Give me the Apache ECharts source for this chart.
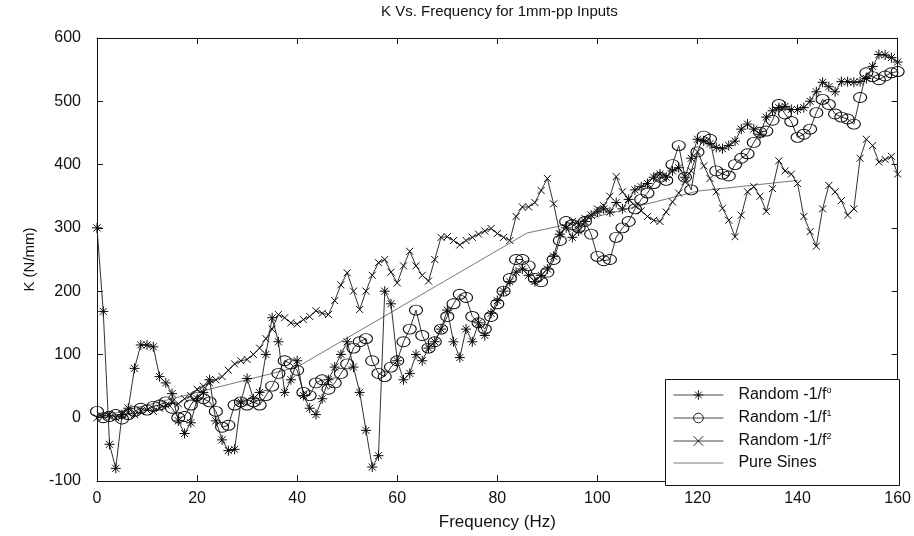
<!DOCTYPE html>
<html>
<head>
<meta charset="utf-8">
<script src="https://cdn.jsdelivr.net/npm/echarts@6/dist/echarts.min.js"></script>
<style>
  html, body { margin: 0; padding: 0; background: #fff; }
  #chart { width: 914px; height: 536px; }
</style>
</head>
<body>
<div id="chart"></div>
<script>
// frequency grid shared by the three random-input runs (Hz)
const freq = Array.from({ length: 129 }, (_, i) => i * 1.25)

// Random -1/f^0 (asterisks)
const kF0 = [
  300, 168, -42, -80, 5, 15, 78, 115, 115, 112,
  65, 55, 38, -5, -25, -8, 30, 40, 60, -5,
  -35, -52, -50, 25, 62, 30, 40, 100, 158, 120,
  40, 60, 90, 35, 15, 5, 30, 60, 80, 100,
  120, 80, 40, -20, -78, -60, 200, 180, 90, 60,
  70, 100, 90, 110, 120, 140, 170, 120, 95, 140,
  120, 150, 130, 165, 185, 200, 215, 230, 235, 225,
  215, 225, 235, 255, 290, 300, 285, 295, 310, 320,
  325, 330, 325, 340, 330, 345, 360, 365, 370, 380,
  385, 380, 390, 395, 380, 410, 440, 437, 433, 427,
  425, 430, 437, 456, 464, 456, 448, 475, 485, 490,
  492, 487, 487, 490, 500, 515, 530, 523, 515, 531,
  531, 530, 531, 536, 555, 574, 573, 569, 562
]

// Random -1/f^1 (circles)
const kF1 = [
  10, 0, 2, 5, -2, 5, 10, 15, 12, 18,
  20, 25, 15, 0, 2, 20, 35, 30, 25, 10,
  -15, -12, 20, 25, 20, 25, 20, 35, 50, 70,
  90, 85, 75, 40, 35, 55, 60, 45, 55, 70,
  85, 110, 120, 125, 90, 70, 65, 80, 90, 120,
  140, 170, 130, 110, 120, 140, 160, 180, 195, 190,
  160, 150, 140, 160, 180, 200, 220, 250, 250, 240,
  220, 215, 230, 250, 280, 310, 305, 300, 310, 290,
  255, 248, 250, 285, 300, 310, 330, 345, 355, 370,
  380, 375, 400, 430, 380, 360, 420, 445, 440, 390,
  385, 382, 400, 410, 417, 435, 451, 453, 470, 495,
  480, 468, 443, 448, 456, 482, 503, 495, 480, 475,
  472, 464, 506, 545, 539, 534, 540, 545, 547
]

// Random -1/f^2 (crosses)
const kF2 = [
  0, 2, 5, 0, 5, 8, 5, 10, 12, 10,
  15, 20, 25, 22, 30, 35, 45, 50, 55, 60,
  65, 75, 85, 90, 92, 100, 110, 125, 140, 163,
  158, 150, 148, 155, 160, 169, 165, 163, 185, 210,
  229, 200, 171, 200, 225, 245, 250, 230, 213, 240,
  263, 240, 225, 216, 250, 285, 286, 280, 273, 280,
  285, 290, 295, 299, 291, 285, 280, 318, 333, 333,
  340, 359, 378, 338, 291, 300, 310, 305, 315, 320,
  330, 335, 350, 381, 357, 345, 335, 327, 318, 312,
  310, 325, 341, 355, 373, 390, 420, 398, 378, 357,
  331, 312, 286, 320, 357, 365, 350, 326, 362, 406,
  390, 385, 370, 318, 294, 271, 330, 367, 357, 343,
  320, 330, 410, 440, 430, 404, 408, 413, 385
]

// Pure Sines
const freqSines = [0, 20, 40, 86, 92, 120, 140]
const kSines = [0, 40, 80, 292, 302, 358, 375]

const xTicks = { min: 0, max: 160, interval: 20 }
const yTicks = { min: -100, max: 600, interval: 100 }

const pairs = (xs, ys) => xs.map((x, i) => [x, ys[i]])

const ASTERISK = 'path://M5,0L5,10M0,5L10,5M1.5,1.5L8.5,8.5M1.5,8.5L8.5,1.5'
const ELLIPSE = 'path://M0,5A6,5,0,1,1,12,5A6,5,0,1,1,0,5Z'
const CROSS = 'path://M0,0L8,8M0,8L8,0'

const FONT = 'Liberation Sans, Arial, Helvetica, sans-serif'
const ink = '#111'

const supMap = {
  'Random -1/f0': '{a|Random -1/f}{s|o}',
  'Random -1/f1': '{a|Random -1/f}{s|1}',
  'Random -1/f2': '{a|Random -1/f}{s|2}',
  'Pure Sines': '{a|Pure Sines}'
}

const markerSeries = (name, data, symbol, size) => ({
  name,
  type: 'line',
  data,
  symbol,
  symbolSize: size,
  symbolKeepAspect: false,
  lineStyle: { color: '#1a1a1a', width: 0.9 },
  itemStyle: { color: 'rgba(0,0,0,0)', borderColor: '#0a0a0a', borderWidth: 1 },
  emphasis: { disabled: true },
  z: 3
})

const chart = echarts.init(document.getElementById('chart'))
chart.setOption({
  animation: false,
  backgroundColor: '#fff',
  textStyle: { fontFamily: FONT },
  title: {
    text: 'K Vs. Frequency for 1mm-pp Inputs',
    left: 381,
    top: 4,
    padding: 0,
    textStyle: { fontSize: 15, fontWeight: 'normal', color: ink, fontFamily: FONT }
  },
  grid: { left: 97, right: 15, top: 38, bottom: 51 },
  legend: {
    orient: 'vertical',
    left: 673,
    top: 386,
    padding: 0,
    z: 8,
    itemWidth: 50,
    itemHeight: 12,
    itemGap: 6,
    data: [
      { name: 'Random -1/f0' },
      { name: 'Random -1/f1' },
      { name: 'Random -1/f2' },
      { name: 'Pure Sines', itemStyle: { opacity: 0 } }
    ],
    formatter: (n) => supMap[n],
    lineStyle: { width: 0.8 },
    itemStyle: { borderWidth: 0.9 },
    textStyle: {
      color: ink,
      padding: [0, 0, 0, 10],
      rich: {
        a: { fontSize: 16, lineHeight: 18, color: ink, fontFamily: FONT },
        s: { fontSize: 9, lineHeight: 10, verticalAlign: 'top', color: ink, fontFamily: FONT }
      }
    }
  },
  graphic: [{
    type: 'rect',
    left: 665,
    top: 379,
    shape: { width: 234, height: 106 },
    style: { fill: '#fff', stroke: ink, lineWidth: 1 },
    z: 5
  }],
  xAxis: [{
    type: 'value',
    ...xTicks,
    name: 'Frequency (Hz)',
    nameLocation: 'middle',
    nameGap: 33,
    nameTextStyle: { fontSize: 17, color: ink, fontFamily: FONT },
    axisLine: { onZero: false, lineStyle: { color: ink, width: 1 } },
    axisTick: { inside: true, length: 6, lineStyle: { color: ink } },
    axisLabel: { fontSize: 16, color: ink, margin: 10, fontFamily: FONT },
    splitLine: { show: false }
  }, {
    type: 'value',
    position: 'top',
    ...xTicks,
    axisLine: { onZero: false, lineStyle: { color: ink, width: 1 } },
    axisTick: { inside: true, length: 6, lineStyle: { color: ink } },
    axisLabel: { show: false },
    splitLine: { show: false }
  }],
  yAxis: [{
    type: 'value',
    ...yTicks,
    name: 'K (N/mm)',
    nameLocation: 'middle',
    nameGap: 60,
    nameTextStyle: { fontSize: 15, color: ink, fontFamily: FONT },
    axisLine: { show: true, onZero: false, lineStyle: { color: ink, width: 1 } },
    axisTick: { show: true, inside: true, length: 6, lineStyle: { color: ink } },
    axisLabel: { fontSize: 16, color: ink, margin: 16, fontFamily: FONT },
    splitLine: { show: false }
  }, {
    type: 'value',
    position: 'right',
    ...yTicks,
    axisLine: { show: true, onZero: false, lineStyle: { color: ink, width: 1 } },
    axisTick: { show: true, inside: true, length: 6, lineStyle: { color: ink } },
    axisLabel: { show: false },
    splitLine: { show: false }
  }],
  series: [
    markerSeries('Random -1/f0', pairs(freq, kF0), ASTERISK, 10),
    markerSeries('Random -1/f1', pairs(freq, kF1), ELLIPSE, [13, 10]),
    markerSeries('Random -1/f2', pairs(freq, kF2), CROSS, 7),
    {
      name: 'Pure Sines',
      type: 'line',
      data: pairs(freqSines, kSines),
      symbol: 'none',
      lineStyle: { color: '#555', width: 0.8 },
      itemStyle: { color: '#555' },
      emphasis: { disabled: true },
      z: 2
    }
  ]
})
</script>
</body>
</html>
